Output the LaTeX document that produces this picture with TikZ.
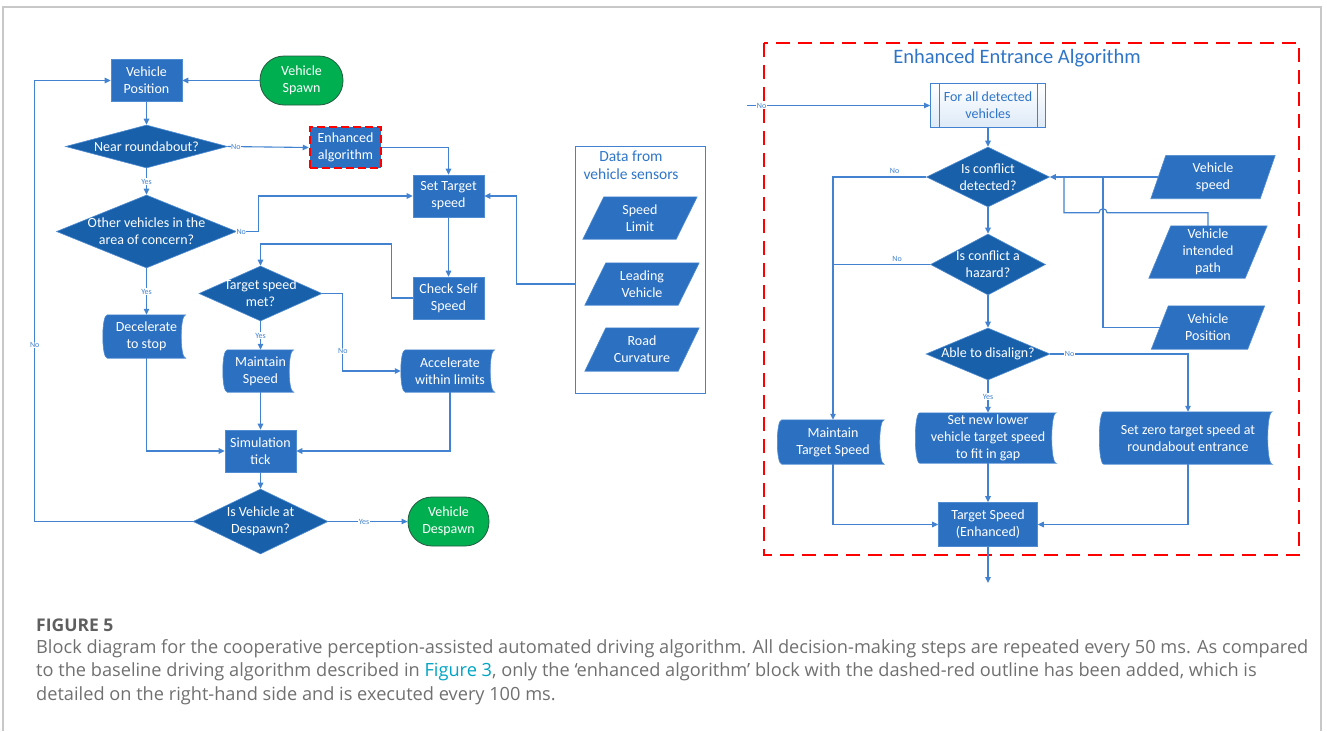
\documentclass[tikz,border=0pt]{standalone}
\usepackage{fontspec}
\setmainfont{Carlito}
\newfontfamily\capfont{Open Sans}
\usetikzlibrary{arrows.meta,shapes.geometric}
\pgfdeclarelayer{bg}
\pgfsetlayers{bg,main}
\definecolor{boxblue}{RGB}{44,112,194}
\definecolor{diablue}{RGB}{24,96,170}
\definecolor{edgeblue}{RGB}{80,140,210}
\definecolor{lineblue}{RGB}{66,130,208}
\definecolor{titleblue}{RGB}{46,117,200}
\definecolor{spawngreen}{RGB}{0,176,80}
\definecolor{greenedge}{RGB}{38,90,64}
\definecolor{subfill}{RGB}{222,234,248}
\definecolor{framegray}{RGB}{200,200,200}
\definecolor{capgray}{RGB}{112,112,112}
\definecolor{capdark}{RGB}{95,95,95}
\definecolor{linkteal}{RGB}{0,164,196}
\newcommand{\storedfill}[1]{\filldraw[fill=boxblue,draw=edgeblue,line width=0.6pt] (#1.north west) .. controls +(-6,0) and +(-6,0) .. (#1.south west) -- (#1.south east) .. controls +(-6,0) and +(-6,0) .. (#1.north east) -- cycle;}
\newcommand{\parafill}[2]{\filldraw[fill=boxblue,draw=edgeblue,line width=0.6pt] ([xshift=-#2/2]#1.south west) -- ([xshift=-#2/2]#1.south east) -- ([xshift=#2/2]#1.north east) -- ([xshift=#2/2]#1.north west) -- cycle;}

\begin{document}
\begin{tikzpicture}[x=1pt,y=-1pt]
\tikzstyle{lbl}=[text=white,align=center,inner sep=0pt,font=\fontsize{14}{17}\selectfont]
\tikzstyle{proc}=[lbl,draw=edgeblue,fill=boxblue,line width=0.6pt,minimum width=71,minimum height=42]
\tikzstyle{term}=[lbl,draw=greenedge,fill=spawngreen,line width=0.8pt,rounded corners=24pt,minimum height=49]
\tikzstyle{dec}=[diamond,draw=edgeblue,fill=diablue,line width=0.6pt,inner sep=0pt]
\tikzstyle{store}=[lbl,minimum height=42]
\tikzstyle{sensor}=[lbl,minimum height=42]
\tikzstyle{conn}=[draw=lineblue,line width=1.1pt,-{Triangle[length=6pt,width=5.5pt]}]
\tikzstyle{wire}=[draw=lineblue,line width=1.1pt]
\tikzstyle{yn}=[text=lineblue,font=\fontsize{8}{9}\selectfont,fill=white,inner sep=0.6pt]
\useasboundingbox (0,0) rectangle (1327,731);
\draw[framegray,line width=1.2pt] (3,731) -- (3,7) -- (1321,7) -- (1321,731);

\node[proc] (vpos) at (146.5,80.5) {Vehicle\\Position};
\node[term,minimum width=83] (spawn) at (301.5,80.5) {Vehicle\\Spawn};
\node[dec,minimum width=162,minimum height=43,label={[lbl]center:Near roundabout?}] (qnear) at (146.5,146.5) {};
\node[proc,draw=red,line width=2.5pt,dash pattern=on 8pt off 4pt,minimum width=71,minimum height=41] (enh) at (345.5,147.5) {Enhanced\\algorithm};
\node[proc] (settgt) at (448.5,196) {Set Target\\speed};
\node[dec,minimum width=180,minimum height=73,label={[lbl]center:{Other vehicles in the\\area of concern?}}] (qother) at (146.5,231.5) {};
\node[proc] (check) at (448.5,298) {Check Self\\Speed};
\node[dec,minimum width=123,minimum height=55,label={[lbl]center:{Target speed\\met?}}] (qmet) at (260.5,293.5) {};
\node[store,minimum width=78,minimum height=43] (decel) at (146.5,336.5) {Decelerate\\to stop};
\node[store,minimum width=66] (maint) at (260.5,371) {Maintain\\Speed};
\node[store,minimum width=89] (accel) at (450,371) {Accelerate\\within limits};
\node[proc] (sim) at (260.5,451) {Simulation\\tick};
\node[dec,minimum width=135,minimum height=65,label={[lbl]center:{Is Vehicle at\\Despawn?}}] (qdesp) at (260.5,521.5) {};
\node[term,minimum width=81] (desp) at (448.5,521.5) {Vehicle\\Despawn};

\node[draw=lineblue,line width=0.8pt,minimum width=130,minimum height=247] (sens) at (640,269.5) {};
\node[text=titleblue,align=center,font=\fontsize{15.5}{18.5}\selectfont] (senst) at (631,165) {Data from\\vehicle sensors};
\node[sensor,minimum width=93] (slim) at (640,218) {Speed\\Limit};
\node[sensor,minimum width=93] (lead) at (642,284) {Leading\\Vehicle};
\node[sensor,minimum width=93,minimum height=43] (curv) at (642,349.5) {Road\\Curvature};

\draw[red,line width=2.5pt,dash pattern=on 14pt off 8pt] (764,43) rectangle (1299,555);
\node[text=titleblue,font=\fontsize{20.5}{24}\selectfont] (ttl) at (1017,58) {Enhanced Entrance Algorithm};
\node[lbl,text=titleblue,draw=lineblue,line width=0.8pt,top color=white,bottom color=subfill,minimum width=115,minimum height=44] (forall) at (988,105.5) {For all detected\\vehicles};
\draw[lineblue,line width=0.8pt] ([xshift=9]forall.north west) -- ([xshift=9]forall.south west);
\draw[lineblue,line width=0.8pt] ([xshift=-9]forall.north east) -- ([xshift=-9]forall.south east);
\node[dec,minimum width=123,minimum height=60,label={[lbl]center:{Is conflict\\detected?}}] (qconf) at (988,177) {};
\node[dec,minimum width=115,minimum height=61,label={[lbl]center:{Is conflict a\\hazard?}}] (qhaz) at (988,264.5) {};
\node[dec,minimum width=124,minimum height=52,label={[lbl]center:Able to disalign?}] (qdis) at (988,354) {};
\node[store,minimum width=102,minimum height=44] (mts) at (833,442) {Maintain\\Target Speed};
\node[store,minimum width=136,minimum height=50] (setlow) at (988,438) {Set new lower\\vehicle target speed\\to fit in gap};
\node[store,minimum width=168,minimum height=52] (setzero) at (1188,438) {Set zero target speed at\\roundabout entrance};
\node[proc,minimum width=99,minimum height=44] (tse) at (988,524.5) {Target Speed\\(Enhanced)};
\node[sensor,minimum width=109,minimum height=43] (vspeed) at (1213,177) {Vehicle\\speed};
\node[sensor,minimum width=96,minimum height=52] (vpath) at (1208,252) {Vehicle\\intended\\path};
\node[sensor,minimum width=96,minimum height=43] (vposr) at (1208,327.5) {Vehicle\\Position};

\begin{pgfonlayer}{bg}
\storedfill{decel}
\storedfill{maint}
\storedfill{accel}
\storedfill{mts}
\storedfill{setlow}
\storedfill{setzero}
\parafill{slim}{21}
\parafill{lead}{21}
\parafill{curv}{21}
\parafill{vspeed}{15}
\parafill{vpath}{22}
\parafill{vposr}{17}
\end{pgfonlayer}

\coordinate (inc) at (747,105.5);
\coordinate (out) at (988,583);
\coordinate (hop) at (1103,212.7);
\coordinate (jn) at (1064,177);

\draw[conn] (spawn.west) -- (vpos.east);
\draw[conn] (vpos.south) -- (qnear.north);
\draw[conn] (qnear.east) -- node[yn,pos=0.1] {No} (enh.west);
\draw[conn] (enh.east) -| (settgt.north);
\draw[conn] (qnear.south) -- node[yn] {Yes} (qother.north);
\draw[conn] (qother.east) -- node[yn,pos=0.2] {No} ++(22,0) |- (settgt.west);
\draw[conn] (settgt.south) -- (check.north);
\draw[conn] (check.west) -- ++(-21.5,0) -- ++(0,-54) -| (qmet.north);
\draw[conn] (qmet.east) -- ++(20.5,0) |- node[yn,pos=0.37] {No} ([xshift=-4.5]accel.west);
\draw[conn] (qmet.south) -- node[yn] {Yes} (maint.north);
\draw[conn] (qother.south) -- node[yn] {Yes} (decel.north);
\draw[conn] (decel.south) |- (sim.west);
\draw[conn] (accel.south) |- (sim.east);
\draw[conn] (maint.south) -- (sim.north);
\draw[conn] (sim.south) -- (qdesp.north);
\draw[conn] (qdesp.west) -- ++(-158,0) |- node[yn,pos=0.2] {No} (vpos.west);
\draw[conn] (qdesp.east) -- node[yn,pos=0.45] {Yes} (desp.west);
\draw[conn] (sens.west |- lead) -- ++(-58.3,0) |- (settgt.east);

\draw[conn] (inc) -- node[yn,pos=0.08] {No} (forall.west);
\draw[conn] (forall.south) -- (qconf.north);
\draw[conn] (qconf.south) -- (qhaz.north);
\draw[conn] (qhaz.south) -- (qdis.north);
\draw[conn] (qconf.west) -| node[yn,pos=0.17,above=2pt] {No} (mts.north);
\draw[wire] (qhaz.west) -- node[yn,pos=0.34,above=2pt] {No} (qhaz.west -| mts.north);
\draw[conn] (qdis.east) -| node[yn,pos=0.07] {No} (setzero.north);
\draw[conn] (qdis.south) -- node[yn] {Yes} (setlow.north);
\draw[conn] (setlow.south) -- (tse.north);
\draw[conn] (mts.south) |- (tse.west);
\draw[conn] (setzero.south) |- (tse.east);
\draw[conn] (tse.south) -- (out);
\draw[conn] (vspeed.west) -- (qconf.east);
\draw[wire] (vpath.north) |- ([xshift=4]hop) arc[start angle=0,end angle=-180,radius=4] -- (hop -| jn) -- (jn);
\draw[wire] (vposr.west) -- (vposr.west -| hop) -- (hop |- jn);

\node[anchor=west,inner sep=0pt,text=capdark,font=\capfont\bfseries\fontsize{17.5}{20}\selectfont] (fig) at (36,625) {FIGURE 5};
\node[anchor=north west,align=left,inner sep=0pt,text=capgray,font=\capfont\fontsize{18.2}{23.5}\selectfont] (cap) at (36,639) {Block diagram for the cooperative perception-assisted automated driving algorithm. All decision-making steps are repeated every 50 ms. As compared\\to the baseline driving algorithm described in \textcolor{linkteal}{Figure 3}, only the ‘enhanced algorithm’ block with the dashed-red outline has been added, which is\\detailed on the right-hand side and is executed every 100 ms.};
\end{tikzpicture}
\end{document}
